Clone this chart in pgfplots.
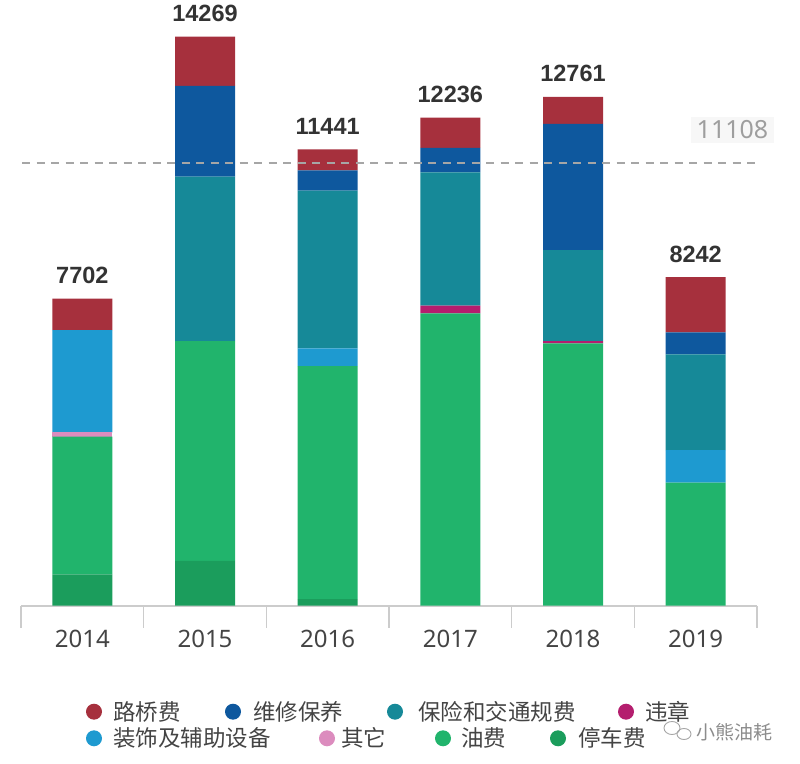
\documentclass[border=0pt]{standalone}
\usepackage{pgfplots}
\pgfplotsset{compat=1.18}
\usepackage{fontspec}
\setmainfont{Noto Sans}
\newfontfamily\numbf{Liberation Sans}
\newfontfamily\cjk{Noto Sans CJK SC}
\definecolor{cLq}{HTML}{A6303D}
\definecolor{cWx}{HTML}{0E589E}
\definecolor{cBx}{HTML}{168998}
\definecolor{cWz}{HTML}{B41E6E}
\definecolor{cZs}{HTML}{1E9AD0}
\definecolor{cQt}{HTML}{DC8CBE}
\definecolor{cYf}{HTML}{21B46C}
\definecolor{cTc}{HTML}{1B9D5C}
\definecolor{txt}{HTML}{444444}
\begin{document}
\begin{tikzpicture}
\path[use as bounding box] (0,0) rectangle (800pt,763pt);
\pgfplotsset{
  base/.style={
    at={(21pt,157.3pt)}, anchor=south west,
    scale only axis, width=736pt, height=598.2pt,
    xmin=-0.5, xmax=5.5, ymin=0, ymax=15000,
  }
}
\begin{axis}[base,
  ybar stacked, bar width=60pt,
  axis x line*=bottom, axis y line=none,
  x axis line style={draw=black!20, line width=1.6pt},
  xtick={0,1,2,3,4,5},
  xticklabels={2014,2015,2016,2017,2018,2019},
  major tick length=0pt,
  minor xtick={-0.5,0.5,1.5,2.5,3.5,4.5,5.5},
  minor tick length=22pt, tick align=outside,
  minor tick style={draw=black!20, line width=1.6pt},
  xticklabel style={font=\fontsize{24}{28}\selectfont, text=txt, anchor=base, yshift=-42pt},
  every axis plot/.append style={draw=none},
]
\addplot[fill=cTc] coordinates {(0,787) (1,1121) (2,168) (3,0) (4,0) (5,0)};
\addplot[fill=cYf] coordinates {(0,3451) (1,5516) (2,5842) (3,7332) (4,6580) (5,3084)};
\addplot[fill=cQt] coordinates {(0,110) (1,0) (2,0) (3,0) (4,0) (5,0)};
\addplot[fill=cZs] coordinates {(0,2565) (1,0) (2,444) (3,0) (4,0) (5,820)};
\addplot[fill=cWz] coordinates {(0,0) (1,0) (2,0) (3,191) (4,57) (5,0)};
\addplot[fill=cBx] coordinates {(0,0) (1,4120) (2,3952) (3,3344) (4,2282) (5,2400)};
\addplot[fill=cWx] coordinates {(0,0) (1,2275) (2,512) (3,610) (4,3160) (5,551)};
\addplot[fill=cLq] coordinates {(0,789) (1,1237) (2,523) (3,759) (4,682) (5,1387)};
\end{axis}
\begin{axis}[base, axis lines=none, clip=false]
\addplot[draw=black!35, line width=1.8pt, dash pattern=on 8pt off 6.5pt, mark=none]
  coordinates {(-0.49,11108) (5.48,11108)};
\addplot[draw=none, mark=none, nodes near coords, point meta=explicit symbolic,
  nodes near coords style={anchor=base, yshift=15pt, text=black!80,
    font=\numbf\bfseries\fontsize{23.5}{27}\selectfont}]
  coordinates {(0,7702)[7702] (1,14269)[14269] (2,11441)[11441] (3,12236)[12236] (4,12761)[12761] (5,8242)[8242]};
\node[fill=black!3, text=black!38, inner xsep=6pt, inner ysep=4pt,
  font=\fontsize{25}{28}\selectfont] at (axis cs:5.30,11928) {11108};
\end{axis}
% legend
\begin{scope}[every node/.style={anchor=west, text=txt, inner sep=0pt,
    font=\cjk\fontsize{22.5}{26}\selectfont}]
\def\ra{51.3pt}\def\rb{24.7pt}
\fill[cLq] (94pt,\ra) circle (8pt); \node at (113pt,\ra) {路桥费};
\fill[cWx] (233pt,\ra) circle (8pt); \node at (253pt,\ra) {维修保养};
\fill[cBx] (395pt,\ra) circle (8pt); \node at (418pt,\ra) {保险和交通规费};
\fill[cWz] (626pt,\ra) circle (8pt); \node at (645pt,\ra) {违章};
\fill[cZs] (94pt,\rb) circle (8pt); \node at (113pt,\rb) {装饰及辅助设备};
\fill[cQt] (327pt,\rb) circle (8pt); \node at (341pt,\rb) {其它};
\fill[cYf] (443pt,\rb) circle (8pt); \node at (461pt,\rb) {油费};
\fill[cTc] (558pt,\rb) circle (8pt); \node at (578pt,\rb) {停车费};
\end{scope}
% watermark
\begin{scope}[draw=black!35, line width=0.9pt]
\draw (672pt,35pt) ellipse (8pt and 6.5pt);
\draw (684pt,29pt) ellipse (7pt and 5.5pt);
\end{scope}
\node[anchor=west, text=black!45, inner sep=0pt, font=\cjk\fontsize{19}{22}\selectfont] at (696pt,31pt) {小熊油耗};
\end{tikzpicture}
\end{document}
